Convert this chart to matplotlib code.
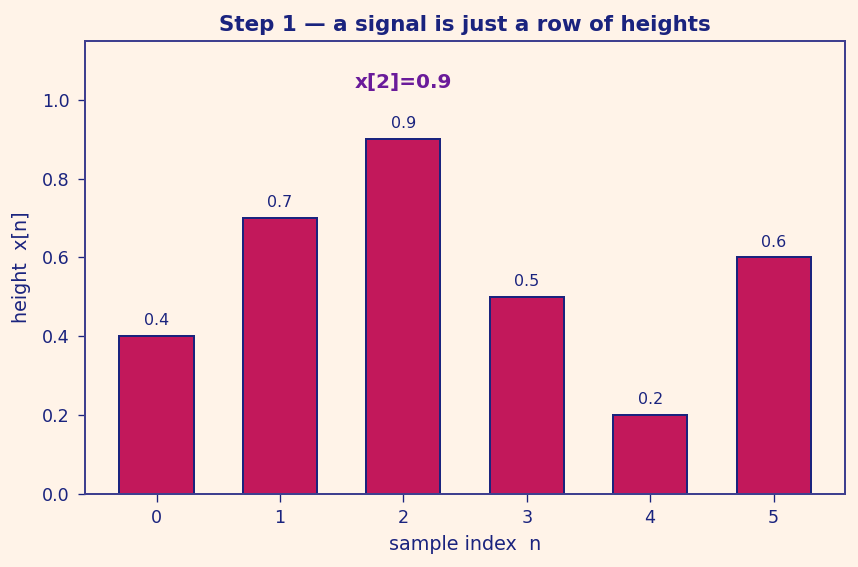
import matplotlib
matplotlib.use("Agg")
import matplotlib.pyplot as plt

n = [0, 1, 2, 3, 4, 5]
x = [0.4, 0.7, 0.9, 0.5, 0.2, 0.6]
highlight = 2

navy = "#1a237e"
bg = "#fff3e8"

fig, ax = plt.subplots(figsize=(7.15, 4.725), dpi=120)
fig.patch.set_facecolor(bg)
ax.set_facecolor(bg)

ax.bar(n, x, width=0.6, color="#c2185b", edgecolor=navy, linewidth=1.2)
for i, v in zip(n, x):
    ax.text(i, v + 0.02, f"{v}", ha="center", va="bottom", fontsize=9.5, color=navy)

ax.text(n[highlight], 1.045, f"x[{highlight}]={x[highlight]}", ha="center", va="center",
        fontsize=12, fontweight="bold", color="#6a1b9a")

ax.set_ylim(0, 1.15)
ax.set_xticks(n)
ax.set_title("Step 1 — a signal is just a row of heights", fontsize=12.8,
             fontweight="bold", color=navy, pad=6)
ax.set_xlabel("sample index  n", color=navy, fontsize=11.5, labelpad=5)
ax.set_ylabel("height  x[n]", color=navy, fontsize=11.5, labelpad=7)
ax.tick_params(colors=navy, labelsize=10.5, length=4.5, pad=4.5)
for s in ax.spines.values():
    s.set_color("#3f3f8f")
    s.set_linewidth(1.2)

fig.subplots_adjust(left=0.099, right=0.985, top=0.928, bottom=0.129)
fig.savefig("out.png", facecolor=bg)
